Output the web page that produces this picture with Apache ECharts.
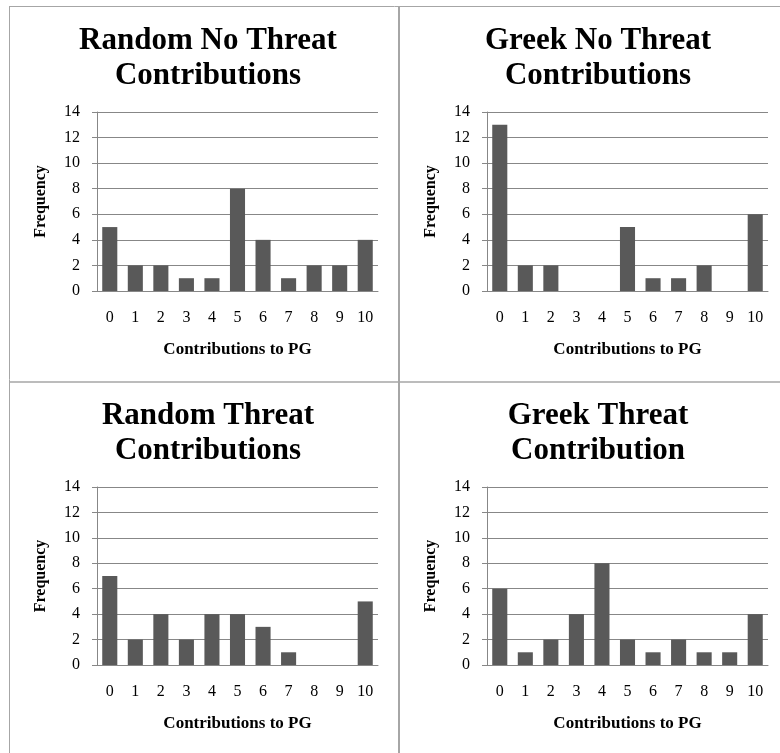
<!DOCTYPE html>
<html>
<head>
<meta charset="utf-8">
<script src="https://cdn.jsdelivr.net/npm/echarts@6/dist/echarts.min.js"></script>
<style>
html,body{margin:0;padding:0;background:#fff;}
#chart{width:780px;height:753px;}
</style>
</head>
<body>
<div id="chart"></div>
<script>
var categories = ['0','1','2','3','4','5','6','7','8','9','10'];
var titles = ['Random No Threat\nContributions', 'Greek No Threat\nContributions', 'Random Threat\nContributions', 'Greek Threat\nContribution'];
var randomNoThreat = [5,2,2,1,1,8,4,1,2,2,4];
var greekNoThreat  = [13,2,2,0,0,5,1,1,2,0,6];
var randomThreat   = [7,2,4,2,4,4,3,1,0,0,5];
var greekThreat    = [6,1,2,4,8,2,1,2,1,1,4];
var yTicks = [0,2,4,6,8,10,12,14];
var xTitle = 'Contributions to PG';
var yTitle = 'Frequency';

var seriesData = [randomNoThreat, greekNoThreat, randomThreat, greekThreat];
var FONT = '"Liberation Serif", "Times New Roman", serif';
var gridColor = '#878787';
var barColor = '#595959';
var borderColor = '#a6a6a6';

var grids = [
  {left:97, top:112, width:281, height:179},
  {left:487, top:112, width:281, height:179},
  {left:97, top:487, width:281, height:178},
  {left:487, top:487, width:281, height:178}
];
var titlePos = [
  {x:203, y:18}, {x:593, y:18}, {x:203, y:393}, {x:593, y:393}
];

var option = {
  backgroundColor:'#fff',
  animation:false,
  title: titles.map(function(t,i){
    return {text:t, left:titlePos[i].x, top:titlePos[i].y, textAlign:'center',
      textStyle:{fontFamily:FONT, fontWeight:'bold', fontSize:31, lineHeight:35, color:'#000'}};
  }),
  grid: grids,
  xAxis: grids.map(function(g,i){
    return {type:'category', gridIndex:i, data:categories,
      name:xTitle, nameLocation:'middle', nameGap:50,
      nameTextStyle:{fontFamily:FONT, fontWeight:'bold', fontSize:17, color:'#000'},
      axisLine:{lineStyle:{color:gridColor, width:1}},
      axisTick:{show:false},
      axisLabel:{fontFamily:FONT, fontSize:16, color:'#000', margin:19}};
  }),
  yAxis: grids.map(function(g,i){
    return {type:'value', gridIndex:i, min:yTicks[0], max:yTicks[yTicks.length-1], interval:2,
      name:yTitle, nameLocation:'middle', nameGap:48, nameRotate:90,
      nameTextStyle:{fontFamily:FONT, fontWeight:'bold', fontSize:16, color:'#000'},
      axisLine:{show:true, lineStyle:{color:gridColor, width:1}},
      axisTick:{show:true, length:5, lineStyle:{color:gridColor}},
      splitLine:{show:true, lineStyle:{color:gridColor, width:1}},
      axisLabel:{fontFamily:FONT, fontSize:16, color:'#000', margin:17}};
  }),
  series: seriesData.map(function(d,i){
    return {type:'bar', xAxisIndex:i, yAxisIndex:i, data:d, barCategoryGap:'41%',
      itemStyle:{color:barColor}};
  }),
  graphic: [
    {type:'line', shape:{x1:9, y1:6.5, x2:780, y2:6.5}, style:{stroke:borderColor, lineWidth:1}},
    {type:'line', shape:{x1:9.5, y1:6, x2:9.5, y2:753}, style:{stroke:borderColor, lineWidth:1}},
    {type:'line', shape:{x1:399, y1:6, x2:399, y2:753}, style:{stroke:borderColor, lineWidth:2}},
    {type:'line', shape:{x1:9, y1:382, x2:780, y2:382}, style:{stroke:borderColor, lineWidth:1.5}}
  ]
};
var chart = echarts.init(document.getElementById('chart'), null, {renderer:'canvas'});
chart.setOption(option);
</script>
</body>
</html>
